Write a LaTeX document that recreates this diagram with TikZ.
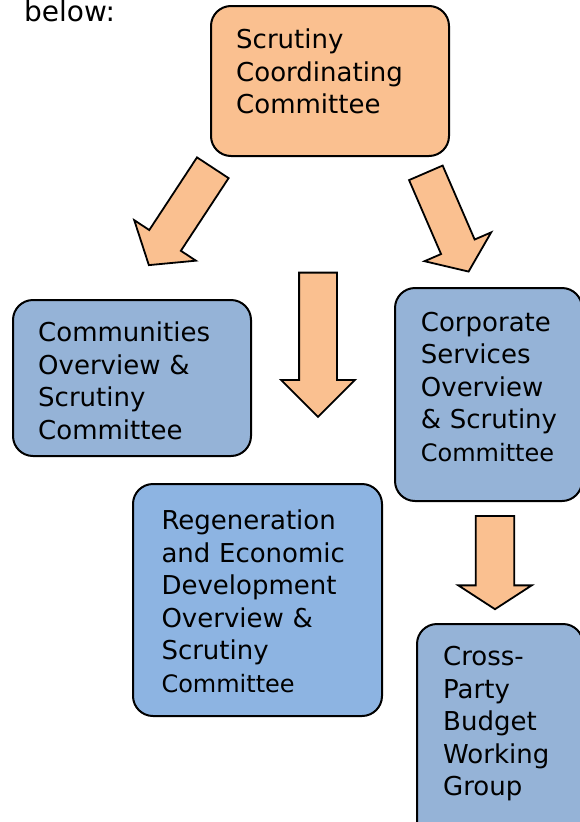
\documentclass[tikz,border=0pt]{standalone}
\usepackage{fontspec}
\setmainfont{DejaVu Sans}
\usetikzlibrary{positioning,shapes.arrows}
\definecolor{coordorange}{HTML}{FAC090}
\definecolor{commblue}{HTML}{95B3D7}
\definecolor{regenblue}{HTML}{8DB4E2}
\newcommand{\boxfont}{\fontsize{26}{32.5}\selectfont}
\newcommand{\smallboxfont}{\fontsize{24}{32.5}\selectfont}

\begin{document}
\begin{tikzpicture}[x=1pt,y=-1pt]
\tikzstyle{committee} = [rectangle, rounded corners=20pt, draw=black, line width=2pt, anchor=north west, inner sep=0pt]
\tikzstyle{boxtext} = [anchor=north west, inner sep=0pt, align=left, text width=230pt, font=\boxfont]
\tikzstyle{bigarrow} = [single arrow, draw=black, fill=coordorange, line width=1.8pt, anchor=tail, inner xsep=0pt, inner ysep=18pt, single arrow head extend=18pt]

\useasboundingbox (0,0) rectangle (580,822);
\clip (0,0) rectangle (580,822);

%nodes
\node (below) [anchor=base west, inner sep=0pt, font=\fontsize{28}{34}\selectfont] at (24,21.7) {below:};
\node (coord) [committee, fill=coordorange, minimum width=238pt, minimum height=150pt] at (210,5) {};
\node (comm) [committee, fill=commblue, minimum width=238pt, minimum height=156pt] at (12,299) {};
\node (corp) [committee, fill=commblue, minimum width=187pt, minimum height=213pt] at (394,287) {};
\node (regen) [committee, fill=regenblue, minimum width=249pt, minimum height=232pt] at (132,483) {};
\node (budget) [committee, fill=commblue, minimum width=166pt, minimum height=220pt] at (416,623) {};

%texts
\node (coordtext) [boxtext, below right=24pt and 26pt of coord.north west] {Scrutiny\\Coordinating\\Committee};
\node (commtext) [boxtext, below right=23pt and 26pt of comm.north west] {Communities\\Overview \&\\Scrutiny\\Committee};
\node (corptext) [boxtext, below right=24.6pt and 26.7pt of corp.north west] {Corporate\\Services\\Overview\\\& Scrutiny\\{\smallboxfont Committee}};
\node (regentext) [boxtext, below right=27pt and 29.3pt of regen.north west] {Regeneration\\and Economic\\Development\\Overview \&\\Scrutiny\\{\smallboxfont Committee}};
\node (budgettext) [boxtext, below right=23.3pt and 27pt of budget.north west] {Cross-\\Party\\Budget\\Working\\Group};

%arrows
\node (arrleft) [bigarrow, rotate=236.7, minimum height=116.5pt, single arrow tip angle=102.6] at (213.3,167) {};
\node (arrmid) [bigarrow, rotate=270, minimum height=144.3pt, single arrow tip angle=90] at (318,271.7) {};
\node (arrright) [bigarrow, rotate=293.4, minimum height=107.6pt, inner ysep=17.4pt, single arrow tip angle=106.7] at (425.5,172) {};
\node (arrdown) [bigarrow, rotate=270, minimum height=93.3pt, inner ysep=18.3pt, single arrow head extend=17.5pt, single arrow tip angle=114] at (495,515) {};
\end{tikzpicture}
\end{document}
